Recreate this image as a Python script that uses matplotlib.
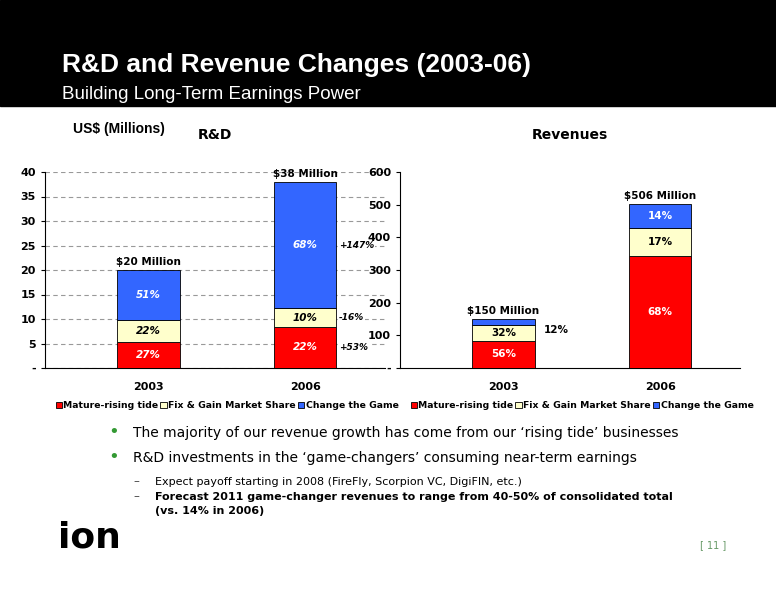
import matplotlib
matplotlib.use("Agg")
import matplotlib.pyplot as plt
from matplotlib.patches import Rectangle

years = ["2003", "2006"]
rd_mature = [5.4, 8.4]
rd_fix = [4.4, 3.8]
rd_change = [10.2, 25.8]
rd_mature_lbl = ["27%", "22%"]
rd_fix_lbl = ["22%", "10%"]
rd_change_lbl = ["51%", "68%"]
rd_totals = ["$20 Million", "$38 Million"]
rd_growth = ["+53%", "-16%", "+147%"]

rev_mature = [84, 344]
rev_fix = [48, 86]
rev_change = [18, 71]
rev_mature_lbl = ["56%", "68%"]
rev_fix_lbl = ["32%", "17%"]
rev_change_lbl = ["12%", "14%"]
rev_totals = ["$150 Million", "$506 Million"]

series = ["Mature-rising tide", "Fix & Gain Market Share", "Change the Game"]
colors = ["#FF0000", "#FFFFCC", "#3366FF"]

fig = plt.figure(figsize=(7.76, 6), dpi=100)
fig.patches.append(Rectangle((0, 1-106/600), 1, 106/600, transform=fig.transFigure, color="black", zorder=0))
fig.text(62/776, 1-72/600, "R&D and Revenue Changes (2003-06)", color="white", fontsize=19, fontweight="bold", family="Liberation Sans")
fig.text(62/776, 1-99/600, "Building Long-Term Earnings Power", color="white", fontsize=13.5, family="Liberation Sans")
fig.text(73/776, 1-133/600, "US$ (Millions)", fontsize=10, fontweight="bold", family="Liberation Sans")

def draw(ax, m, f, c, ml, fl, cl, totals, ymax, step, title, italic, grid):
    x = [0, 1]
    w = 0.4
    ax.bar(x, m, w, color=colors[0], edgecolor="black", linewidth=0.6, label=series[0], zorder=3)
    ax.bar(x, f, w, bottom=m, color=colors[1], edgecolor="black", linewidth=0.6, label=series[1], zorder=3)
    b2 = [a+b for a, b in zip(m, f)]
    ax.bar(x, c, w, bottom=b2, color=colors[2], edgecolor="black", linewidth=0.6, label=series[2], zorder=3)
    st = "italic" if italic else "normal"
    for i in x:
        ax.text(i, m[i]/2, ml[i], ha="center", va="center", color="white", fontsize=7.5, fontweight="bold", style=st, zorder=4)
        ax.text(i, m[i]+f[i]/2, fl[i], ha="center", va="center", color="black", fontsize=7.5, fontweight="bold", style=st, zorder=4)
        ax.text(i, b2[i]+c[i]/2, cl[i], ha="center", va="center", color="white", fontsize=7.5, fontweight="bold", style=st, zorder=4)
        ax.text(i, b2[i]+c[i]+ymax*0.015, totals[i], ha="center", va="bottom", fontsize=7.5, fontweight="bold", zorder=4)
    ax.set_xlim(-0.66, 1.51)
    ax.set_ylim(0, ymax)
    ticks = list(range(0, ymax+1, step))
    ax.set_yticks(ticks)
    ax.set_yticklabels(["-"] + [str(t) for t in ticks[1:]], fontsize=8, fontweight="bold")
    ax.set_xticks(x)
    ax.set_xticklabels(years, fontsize=8, fontweight="bold")
    ax.tick_params(axis="x", length=0, pad=10)
    ax.tick_params(axis="y", length=3)
    if grid:
        ax.yaxis.grid(True, linestyle=(0, (4, 3)), color="#999999", linewidth=0.8, zorder=0)
    for s in ["top", "right"]:
        ax.spines[s].set_visible(False)
    ax.set_title(title, fontsize=10, fontweight="bold", pad=24)
    ax.legend(loc="upper left", bbox_to_anchor=(0.02, -0.15), ncol=3, frameon=False,
              handlelength=0.7, handleheight=0.7, handletextpad=0.15, columnspacing=0.2, borderaxespad=0,
              prop={"weight": "bold", "size": 6.7})

ax1 = fig.add_axes([45/776, 1-368/600, 340/776, 196/600])
draw(ax1, rd_mature, rd_fix, rd_change, rd_mature_lbl, rd_fix_lbl, rd_change_lbl, rd_totals, 40, 5, "R&D", True, True)
for y, t in zip([rd_mature[1]/2, rd_mature[1]+rd_fix[1]/2, rd_mature[1]+rd_fix[1]+rd_change[1]/2], rd_growth):
    ax1.text(1.215, y, t, ha="left", va="center", fontsize=6.5, fontweight="bold", style="italic",
             bbox=dict(facecolor="white", edgecolor="none", pad=0.5), zorder=5)

ax2 = fig.add_axes([400/776, 1-368/600, 340/776, 196/600])
draw(ax2, rev_mature, rev_fix, rev_change, rev_mature_lbl, rev_fix_lbl, rev_change_lbl, rev_totals, 600, 100, "Revenues", False, False)
for t in ax2.texts:
    if t.get_text() == rev_change_lbl[0]:
        t.set_position((0.34, rev_mature[0]+rev_fix[0]+rev_change[0]/2 - 8)); t.set_color("black"); t.set_va("top")

bx = 108/776
fig.text(bx, 1-437/600, "•", color="#339933", fontsize=13)
fig.text(133/776, 1-437/600, "The majority of our revenue growth has come from our ‘rising tide’ businesses", fontsize=10)
fig.text(bx, 1-462/600, "•", color="#339933", fontsize=13)
fig.text(133/776, 1-462/600, "R&D investments in the ‘game-changers’ consuming near-term earnings", fontsize=10)
fig.text(133/776, 1-485/600, "–", fontsize=8.5, color="#555555")
fig.text(155/776, 1-485/600, "Expect payoff starting in 2008 (FireFly, Scorpion VC, DigiFIN, etc.)", fontsize=8)
fig.text(133/776, 1-500/600, "–", fontsize=8.5, color="#555555")
fig.text(155/776, 1-500/600, "Forecast 2011 game-changer revenues to range from 40-50% of consolidated total", fontsize=8, fontweight="bold")
fig.text(155/776, 1-514/600, "(vs. 14% in 2006)", fontsize=8, fontweight="bold")
fig.text(58/776, 1-548/600, "ion", fontsize=26, fontweight="bold", color="black", family="DejaVu Sans")
fig.text(700/776, 1-548/600, "[ 11 ]", fontsize=7, color="#669966")

fig.savefig("out.png", dpi=100)
